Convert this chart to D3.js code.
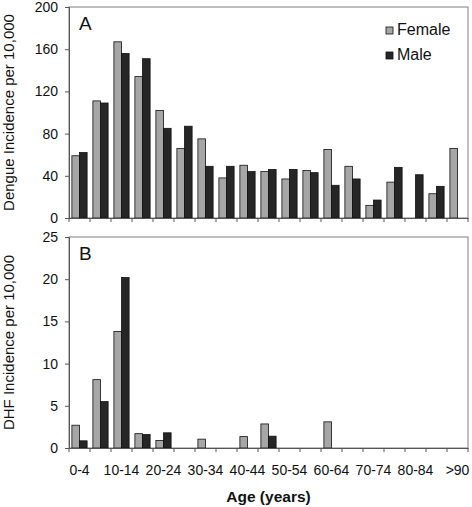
<!DOCTYPE html>
<html><head><meta charset="utf-8">
<script src="https://cdn.jsdelivr.net/npm/d3@7"></script>
<style>body{margin:0;background:#fff}svg{display:block}text{font-family:Arial,"Liberation Sans",sans-serif}</style>
</head><body>
<script>
const ageGroups = ["0-4","5-9","10-14","15-19","20-24","25-29","30-34","35-39","40-44","45-49","50-54","55-59","60-64","65-69","70-74","75-79","80-84","85-89",">90"];
const tickLabels = ["0-4","10-14","20-24","30-34","40-44","50-54","60-64","70-74","80-84",">90"];
const dengueFemale = [59,111,167,134,102,66,75,38,50,44,37,45,65,49,12,34,0,23,66];
const dengueMale   = [62,109,156,151,85,87,49,49,44,46,46,43,31,37,17,48,41,30,0];
const dhfFemale = [2.7,8.1,13.8,1.7,0.9,0,1.05,0,1.35,2.85,0,0,3.1,0,0,0,0,0,0];
const dhfMale   = [0.85,5.5,20.2,1.6,1.8,0,0,0,0,1.4,0,0,0,0,0,0,0,0,0];
const dengueTicks = [0,40,80,120,160,200];
const dhfTicks = [0,5,10,15,20,25];
const seriesNames = ["Female","Male"];
const colors = ["#a6a6a6","#262626"];

const W=472,H=507;
const svg=d3.select("body").append("svg").attr("width",W).attr("height",H);
const left=69,right=468;
const x=d3.scaleBand().domain(ageGroups).range([left,right]).padding(0);
const xs=d3.scaleBand().domain(seriesNames).range([0,x.bandwidth()]).paddingInner(0).paddingOuter(0.38);

function panel(top,bottom,fem,mal,ticks,label,title){
  const y=d3.scaleLinear().domain([0,ticks[ticks.length-1]]).range([bottom,top]);
  const g=svg.append("g");
  g.append("rect").attr("x",left).attr("y",top).attr("width",right-left).attr("height",bottom-top)
    .attr("fill","none").attr("stroke","#7f7f7f").attr("stroke-width",1);
  const data=ageGroups.map((a,i)=>({a,v:[fem[i],mal[i]]}));
  const grp=g.selectAll("g.grp").data(data).join("g").attr("transform",d=>`translate(${x(d.a)},0)`);
  grp.selectAll("rect").data(d=>d.v.map((v,k)=>({v,k})).filter(e=>e.v>0)).join("rect")
    .attr("x",e=>xs(seriesNames[e.k])).attr("width",xs.bandwidth())
    .attr("y",e=>y(e.v)).attr("height",e=>bottom-y(e.v))
    .attr("fill",e=>colors[e.k]).attr("stroke","#111").attr("stroke-width",0.8);
  const ya=g.append("g").attr("transform",`translate(${left},0)`)
    .call(d3.axisLeft(y).tickValues(ticks).tickSize(4).tickPadding(7));
  ya.select(".domain").attr("stroke","#555");
  ya.selectAll(".tick line").attr("stroke","#555");
  ya.selectAll("text").attr("font-size",14).attr("fill","#111");
  const xa=g.append("g").attr("transform",`translate(0,${bottom})`)
    .call(d3.axisBottom(x).tickSize(0).tickFormat(""));
  xa.select(".domain").attr("stroke","#555");
  xa.selectAll(".tick").remove();
  g.append("g").selectAll("line").data(d3.range(ageGroups.length+1)).join("line")
    .attr("x1",i=>left+i*x.step()).attr("x2",i=>left+i*x.step())
    .attr("y1",bottom).attr("y2",bottom+4).attr("stroke","#555");
  g.append("text").attr("x",79).attr("y",top+23).attr("font-size",19).attr("fill","#111").text(label);
  g.append("text").attr("transform",`translate(14,${(top+bottom)/2}) rotate(-90)`)
    .attr("text-anchor","middle").attr("font-size",15).attr("fill","#111").text(title);
  return y;
}
panel(7,218,dengueFemale,dengueMale,dengueTicks,"A","Dengue Incidence per 10,000");
panel(237,448,dhfFemale,dhfMale,dhfTicks,"B","DHF Incidence per 10,000");

svg.append("g").selectAll("text").data(tickLabels).join("text")
  .attr("x",d=>x(d)+x.bandwidth()/2).attr("y",475).attr("text-anchor","middle")
  .attr("font-size",14).attr("fill","#111").text(d=>d);
svg.append("text").attr("x",(left+right)/2).attr("y",502).attr("text-anchor","middle")
  .attr("font-size",15.5).attr("font-weight","bold").attr("fill","#111").text("Age (years)");

const lg=svg.append("g").selectAll("g").data(seriesNames).join("g")
  .attr("transform",(d,i)=>`translate(386,${27+i*25})`);
lg.append("rect").attr("width",7).attr("height",7).attr("fill",(d,i)=>colors[i]).attr("stroke","#111").attr("stroke-width",0.8);
lg.append("text").attr("x",11).attr("y",8).attr("font-size",16).attr("fill","#111").text(d=>d);
</script>
</body></html>
